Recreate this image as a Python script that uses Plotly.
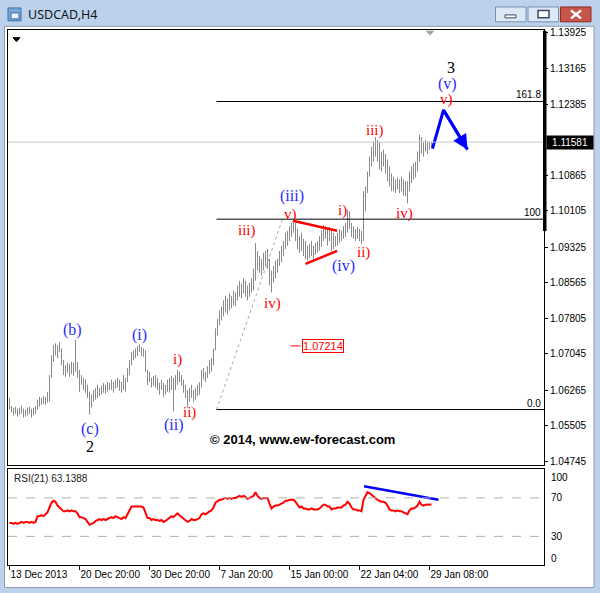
import plotly.graph_objects as go

W, H = 600, 593

# ---------------- data ----------------
title_text = "USDCAD,H4"
date_tick_bars = [0, 35, 70, 105, 140, 175, 210]
date_tick_labels = ["13 Dec 2013", "20 Dec 20:00", "30 Dec 20:00", "7 Jan 20:00",
                    "15 Jan 00:00", "22 Jan 04:00", "29 Jan 08:00"]
price_tick_values = [1.13925, 1.13165, 1.12385, 1.10865, 1.10105, 1.09325,
                     1.08565, 1.07805, 1.07045, 1.06265, 1.05505, 1.04745]
last_price = 1.11581

bar_high = [
    1.0610, 1.0593, 1.0589, 1.0591, 1.0587, 1.0589, 1.0593, 1.0587, 1.0585, 1.0589,
    1.0591, 1.0587, 1.0589, 1.0593, 1.0606, 1.0612, 1.0610, 1.0614, 1.0612, 1.0623,
    1.0659, 1.0701, 1.0723, 1.0727, 1.0723, 1.0729, 1.0716, 1.0691, 1.0680, 1.0685,
    1.0683, 1.0687, 1.0685, 1.0734, 1.0687, 1.0670, 1.0659, 1.0653, 1.0649, 1.0638,
    1.0623, 1.0617, 1.0627, 1.0631, 1.0638, 1.0631, 1.0636, 1.0642, 1.0638, 1.0644,
    1.0642, 1.0649, 1.0644, 1.0649, 1.0653, 1.0649, 1.0644, 1.0659, 1.0653, 1.0674,
    1.0691, 1.0708, 1.0712, 1.0716, 1.0721, 1.0725, 1.0719, 1.0716, 1.0712, 1.0670,
    1.0666, 1.0653, 1.0657, 1.0659, 1.0653, 1.0642, 1.0649, 1.0642, 1.0638, 1.0649,
    1.0653, 1.0657, 1.0653, 1.0659, 1.0670, 1.0666, 1.0659, 1.0649, 1.0638, 1.0627,
    1.0631, 1.0638, 1.0627, 1.0631, 1.0638, 1.0644, 1.0670, 1.0674, 1.0666, 1.0678,
    1.0691, 1.0695, 1.0716, 1.0759, 1.0780, 1.0797, 1.0806, 1.0819, 1.0829, 1.0823,
    1.0834, 1.0829, 1.0840, 1.0836, 1.0851, 1.0861, 1.0855, 1.0866, 1.0861, 1.0851,
    1.0857, 1.0866, 1.0887, 1.0942, 1.0925, 1.0914, 1.0908, 1.0921, 1.0925, 1.0929,
    1.0908, 1.0883, 1.0893, 1.0904, 1.0908, 1.0925, 1.0936, 1.0946, 1.0964, 1.0968,
    1.0978, 1.0985, 1.0991, 1.0985, 1.0972, 1.0957, 1.0964, 1.0951, 1.0946, 1.0936,
    1.0940, 1.0946, 1.0936, 1.0942, 1.0946, 1.0957, 1.0968, 1.0981, 1.0978, 1.0972,
    1.0976, 1.0968, 1.0964, 1.0957, 1.0964, 1.0972, 1.0968, 1.0978, 1.0985, 1.1014,
    1.1010, 1.0985, 1.0978, 1.0972, 1.0976, 1.0972, 1.0968, 1.1053, 1.1063, 1.1095,
    1.1127, 1.1148, 1.1159, 1.1169, 1.1163, 1.1159, 1.1138, 1.1142, 1.1133, 1.1121,
    1.1106, 1.1091, 1.1084, 1.1078, 1.1082, 1.1078, 1.1084, 1.1078, 1.1074, 1.1074,
    1.1095, 1.1106, 1.1112, 1.1116, 1.1138, 1.1174, 1.1169, 1.1159, 1.1163, 1.1159,
    1.1159, 1.1159,
]
bar_low = [
    1.0585, 1.0579, 1.0572, 1.0576, 1.0570, 1.0574, 1.0576, 1.0568, 1.0570, 1.0572,
    1.0576, 1.0568, 1.0572, 1.0576, 1.0585, 1.0591, 1.0595, 1.0597, 1.0595, 1.0600,
    1.0602, 1.0653, 1.0687, 1.0701, 1.0695, 1.0708, 1.0680, 1.0659, 1.0655, 1.0664,
    1.0655, 1.0661, 1.0657, 1.0666, 1.0653, 1.0623, 1.0638, 1.0627, 1.0621, 1.0610,
    1.0574, 1.0589, 1.0602, 1.0606, 1.0610, 1.0614, 1.0617, 1.0621, 1.0619, 1.0623,
    1.0627, 1.0627, 1.0621, 1.0630, 1.0632, 1.0625, 1.0621, 1.0627, 1.0623, 1.0644,
    1.0659, 1.0680, 1.0691, 1.0695, 1.0700, 1.0708, 1.0700, 1.0698, 1.0666, 1.0638,
    1.0644, 1.0632, 1.0636, 1.0632, 1.0627, 1.0617, 1.0627, 1.0612, 1.0617, 1.0623,
    1.0621, 1.0627, 1.0581, 1.0627, 1.0638, 1.0644, 1.0636, 1.0621, 1.0610, 1.0589,
    1.0602, 1.0610, 1.0602, 1.0606, 1.0614, 1.0617, 1.0632, 1.0649, 1.0644, 1.0653,
    1.0661, 1.0666, 1.0680, 1.0712, 1.0744, 1.0766, 1.0776, 1.0785, 1.0793, 1.0789,
    1.0797, 1.0802, 1.0808, 1.0806, 1.0819, 1.0827, 1.0823, 1.0834, 1.0827, 1.0819,
    1.0827, 1.0836, 1.0840, 1.0861, 1.0883, 1.0878, 1.0872, 1.0883, 1.0893, 1.0887,
    1.0851, 1.0836, 1.0857, 1.0866, 1.0878, 1.0893, 1.0900, 1.0914, 1.0929, 1.0936,
    1.0946, 1.0955, 1.0964, 1.0946, 1.0929, 1.0921, 1.0925, 1.0914, 1.0908, 1.0904,
    1.0910, 1.0914, 1.0908, 1.0917, 1.0921, 1.0925, 1.0934, 1.0946, 1.0951, 1.0936,
    1.0946, 1.0925, 1.0929, 1.0934, 1.0936, 1.0942, 1.0946, 1.0951, 1.0955, 1.0964,
    1.0972, 1.0955, 1.0951, 1.0946, 1.0951, 1.0946, 1.0940, 1.0946, 1.1010, 1.1049,
    1.1084, 1.1106, 1.1116, 1.1127, 1.1116, 1.1099, 1.1095, 1.1106, 1.1091, 1.1074,
    1.1063, 1.1053, 1.1053, 1.1049, 1.1057, 1.1049, 1.1053, 1.1044, 1.1042, 1.1027,
    1.1053, 1.1070, 1.1078, 1.1082, 1.1095, 1.1116, 1.1133, 1.1127, 1.1138, 1.1133,
    1.1142, 1.1146,
]
rsi_values = [
    44, 44, 43, 44, 43, 44, 45, 44, 45, 45,
    44, 45, 44, 45, 51, 51, 52, 51, 53, 55,
    60, 65, 67, 66, 62, 60, 57, 56, 56, 57,
    56, 57, 56, 56, 54, 50, 50, 49, 48, 45,
    42, 43, 44, 46, 47, 48, 47, 48, 47, 48,
    49, 50, 49, 51, 50, 49, 48, 50, 49, 53,
    58, 61, 61, 61, 61, 61, 61, 60, 55, 49,
    49, 47, 48, 47, 47, 46, 47, 45, 46, 48,
    49, 51, 50, 52, 54, 52, 50, 48, 46, 45,
    46, 48, 47, 47, 48, 49, 53, 54, 53, 55,
    56, 57, 60, 65, 67, 68, 68, 69, 70, 69,
    70, 69, 70, 70, 71, 72, 71, 72, 71, 69,
    70, 71, 72, 76, 72, 70, 69, 70, 70, 70,
    64, 59, 61, 62, 62, 63, 64, 65, 67, 67,
    68, 68, 68, 66, 63, 60, 61, 59, 59, 58,
    58, 59, 58, 58, 58, 59, 61, 63, 63, 61,
    61, 58, 59, 59, 60, 60, 60, 62, 63, 66,
    64, 60, 58, 58, 57, 57, 56, 68, 72, 76,
    75, 73, 72, 70, 68, 67, 66, 66, 65, 62,
    58, 57, 57, 56, 57, 56, 56, 55, 54, 53,
    57, 59, 59, 60, 62, 66, 63, 62, 63, 63,
    63, 63.1388,
]
rsi_title = "RSI(21) 63.1388"
rsi_levels = [70, 30]
rsi_scale_labels = [100, 70, 30, 0]

fib_anchor_bars = [103.5, 136.5]
fib_anchor_prices = [1.0585, 1.0993]
fib_ratios = [0.0, 100.0, 161.8]
fib_labels = ["0.0", "100", "161.8"]

triangle_upper_bars = [142.2, 163.8]
triangle_upper_prices = [1.0989, 1.0968]
triangle_lower_bars = [148.0, 163.8]
triangle_lower_prices = [1.0897, 1.0925]

projection_bars = [211.5, 217.0, 229.0]
projection_prices = [1.1144, 1.1227, 1.1142]

rsi_div_bars = [177.3, 214.5]
rsi_div_values = [82, 68]

marked_price = 1.07214
marked_price_bars = [140.5, 145.5]

blue_wave_text = ["(b)", "(c)", "(i)", "(ii)", "(iii)", "(iv)", "(v)"]
blue_wave_bars = [31.5, 40.0, 65.0, 82.0, 141.0, 167.0, 219.0]
blue_wave_prices = [1.0755, 1.0543, 1.0744, 1.0551, 1.1042, 1.0893, 1.1282]

red_wave_text = ["i)", "ii)", "iii)", "iv)", "v)", "i)", "ii)", "iii)", "iv)", "v)"]
red_wave_bars = [84.0, 90.0, 118.5, 131.5, 140.5, 166.5, 177.0, 182.5, 197.5, 218.5]
red_wave_prices = [1.0693, 1.0579, 1.0968, 1.0812, 1.1004, 1.1012, 1.0921, 1.1182, 1.1006, 1.1250]

black_wave_text = ["2", "3"]
black_wave_bars = [40.0, 220.5]
black_wave_prices = [1.0506, 1.1318]

copyright_text = "© 2014, www.ew-forecast.com"

# ---------------- layout helpers ----------------
def PX(x):
    return x / W


def PY(y):
    return 1 - y / H


X_RANGE = [-0.75, 267.25]
Y_RANGE = [1.04660, 1.13978]
MAIN = "Liberation Sans"
SERIF = "Liberation Serif"
BLUE_LBL = "#2b2bff"
RED = "#ff0000"

fig = go.Figure()

# price bars (high-low vertical strokes)
bx, by = [], []
for i, (h, l) in enumerate(zip(bar_high, bar_low)):
    bx += [i, i, None]
    by += [l, h, None]
fig.add_trace(go.Scatter(x=bx, y=by, mode="lines", line=dict(color="#8a8a8a", width=1),
                         xaxis="x", yaxis="y", hoverinfo="skip"))

# fibonacci dotted anchor line
fig.add_trace(go.Scatter(x=fib_anchor_bars, y=fib_anchor_prices, mode="lines",
                         line=dict(color="#a8a8a8", width=1, dash="dot"),
                         xaxis="x", yaxis="y", hoverinfo="skip"))

# triangle lines
fig.add_trace(go.Scatter(x=triangle_upper_bars, y=triangle_upper_prices, mode="lines",
                         line=dict(color=RED, width=2.5), xaxis="x", yaxis="y"))
fig.add_trace(go.Scatter(x=triangle_lower_bars, y=triangle_lower_prices, mode="lines",
                         line=dict(color=RED, width=2.5), xaxis="x", yaxis="y"))

# marked price short line
fig.add_trace(go.Scatter(x=marked_price_bars, y=[marked_price, marked_price], mode="lines",
                         line=dict(color=RED, width=1), xaxis="x", yaxis="y"))

# projection path
fig.add_trace(go.Scatter(x=projection_bars, y=projection_prices, mode="lines",
                         line=dict(color="#0000ff", width=3), xaxis="x", yaxis="y"))

# RSI
fig.add_trace(go.Scatter(x=list(range(len(rsi_values))), y=rsi_values, mode="lines",
                         line=dict(color="#ff0000", width=2), xaxis="x2", yaxis="y2"))
fig.add_trace(go.Scatter(x=rsi_div_bars, y=rsi_div_values, mode="lines",
                         line=dict(color="#0000ff", width=2.5), xaxis="x2", yaxis="y2"))

shapes = []
# chart window white area
shapes.append(dict(type="rect", xref="paper", yref="paper", x0=PX(4.5), x1=PX(594), y0=PY(589.5), y1=PY(23.5),
                   fillcolor="white", line=dict(color="#8e9aaa", width=1), layer="below"))
# title bar buttons
for (x0, x1, fill, border) in [(495.5, 526, "#dde8f5", "#7890b0"), (528, 558.5, "#dde8f5", "#7890b0"),
                               (560.5, 591, "#c9544a", "#8a2d25")]:
    shapes.append(dict(type="rect", xref="paper", yref="paper", x0=PX(x0), x1=PX(x1), y0=PY(19), y1=PY(4),
                       fillcolor=fill, line=dict(color=border, width=1)))
shapes.append(dict(type="rect", xref="paper", yref="paper", x0=PX(505), x1=PX(516), y0=PY(15), y1=PY(12),
                   fillcolor="white", line=dict(color="#3a4a60", width=1)))
shapes.append(dict(type="rect", xref="paper", yref="paper", x0=PX(538), x1=PX(549), y0=PY(15), y1=PY(7.5),
                   fillcolor="white", line=dict(color="#3a4a60", width=1.5)))
shapes.append(dict(type="line", xref="paper", yref="paper", x0=PX(571), x1=PX(581), y0=PY(7.5), y1=PY(15.5),
                   line=dict(color="white", width=2.5)))
shapes.append(dict(type="line", xref="paper", yref="paper", x0=PX(571), x1=PX(581), y0=PY(15.5), y1=PY(7.5),
                   line=dict(color="white", width=2.5)))
# title icon
shapes.append(dict(type="rect", xref="paper", yref="paper", x0=PX(8), x1=PX(21), y0=PY(18), y1=PY(5),
                   fillcolor="#7aa6da", line=dict(color="#3e6ea8", width=1)))
shapes.append(dict(type="rect", xref="paper", yref="paper", x0=PX(11), x1=PX(19), y0=PY(16), y1=PY(10),
                   fillcolor="#eaf2fb", line=dict(color="#3e6ea8", width=1)))

# bid line
shapes.append(dict(type="line", xref="x", yref="y", x0=X_RANGE[0], x1=X_RANGE[1], y0=last_price, y1=last_price,
                   line=dict(color="#c8c8c8", width=1)))
# fibonacci levels
fib_prices = [fib_anchor_prices[0] + (fib_anchor_prices[1] - fib_anchor_prices[0]) * r / 100 for r in fib_ratios]
for fp in fib_prices:
    shapes.append(dict(type="line", xref="x", yref="y", x0=fib_anchor_bars[0], x1=X_RANGE[1], y0=fp, y1=fp,
                       line=dict(color="black", width=1)))
# RSI levels
for lv in rsi_levels:
    shapes.append(dict(type="line", xref="x2", yref="y2", x0=X_RANGE[0], x1=X_RANGE[1], y0=lv, y1=lv,
                       line=dict(color="#b0b0b0", width=1, dash="dash")))
# markers on the chart frame
shapes.append(dict(type="path", xref="paper", yref="paper",
                   path=f"M{PX(13)},{PY(35)} L{PX(20)},{PY(35)} L{PX(16.5)},{PY(39)} Z",
                   fillcolor="black", line=dict(color="black", width=1)))
shapes.append(dict(type="path", xref="paper", yref="paper",
                   path=f"M{PX(426.5)},{PY(28.5)} L{PX(433.5)},{PY(28.5)} L{PX(430)},{PY(32)} Z",
                   fillcolor="#a0a0a0", line=dict(color="#a0a0a0", width=1)))
shapes.append(dict(type="rect", xref="paper", yref="paper", x0=PX(543), x1=PX(546.5), y0=PY(230), y1=PY(28),
                   fillcolor="black", line=dict(width=0)))

annotations = []
annotations.append(dict(xref="paper", yref="paper", x=PX(26), y=PY(12), text=title_text, showarrow=False,
                        xanchor="left", yanchor="middle", font=dict(family="Noto Sans", size=12.5, color="#101820")))
# last price box
annotations.append(dict(xref="paper", yref="y", x=PX(545.5), y=last_price, text=f"{last_price:.5f}",
                        showarrow=False, xanchor="left", yanchor="middle", bgcolor="black", width=44,
                        borderpad=1, font=dict(family=MAIN, size=10, color="white")))
# fib labels
for fp, lab in zip(fib_prices, fib_labels):
    annotations.append(dict(xref="paper", yref="y", x=PX(543), y=fp, text=lab, showarrow=False,
                            xanchor="right", yanchor="bottom", yshift=-1,
                            font=dict(family=MAIN, size=10, color="black")))
# RSI scale labels
for v in rsi_scale_labels:
    shift = -8 if v == 100 else (7 if v == 0 else 0)
    annotations.append(dict(xref="paper", yref="y2", x=PX(549), y=v, text=str(v), showarrow=False,
                            xanchor="left", yanchor="middle", yshift=shift,
                            font=dict(family=MAIN, size=10, color="black")))
annotations.append(dict(xref="paper", yref="paper", x=PX(12), y=PY(480), text=rsi_title, showarrow=False,
                        xanchor="left", yanchor="middle", font=dict(family=MAIN, size=10, color="#222")))
# marked price label
annotations.append(dict(xref="x", yref="y", x=marked_price_bars[1] + 0.5, y=marked_price,
                        text=f"{marked_price:.5f}", showarrow=False, xanchor="left", yanchor="middle",
                        bordercolor=RED, borderwidth=1, borderpad=0, bgcolor="white",
                        font=dict(family=MAIN, size=11, color=RED)))
# wave labels
for t, bxx, pr in zip(blue_wave_text, blue_wave_bars, blue_wave_prices):
    annotations.append(dict(xref="x", yref="y", x=bxx, y=pr, text=t, showarrow=False,
                            font=dict(family=SERIF, size=16, color=BLUE_LBL)))
for t, bxx, pr in zip(red_wave_text, red_wave_bars, red_wave_prices):
    annotations.append(dict(xref="x", yref="y", x=bxx, y=pr, text=t, showarrow=False,
                            font=dict(family=SERIF, size=15, color=RED)))
for t, bxx, pr in zip(black_wave_text, black_wave_bars, black_wave_prices):
    annotations.append(dict(xref="x", yref="y", x=bxx, y=pr, text=t, showarrow=False,
                            font=dict(family=SERIF, size=16, color="black")))
# projection arrowhead
annotations.append(dict(xref="x", yref="y", axref="x", ayref="y",
                        x=projection_bars[2], y=projection_prices[2],
                        ax=projection_bars[1], ay=projection_prices[1],
                        showarrow=True, arrowhead=2, arrowsize=1, arrowwidth=3, arrowcolor="#0000ff",
                        text="", standoff=0))
annotations.append(dict(xref="paper", yref="paper", x=PX(302), y=PY(450), text="<b>" + copyright_text + "</b>",
                        showarrow=False, font=dict(family=MAIN, size=13, color="black")))

fig.update_layout(
    width=W, height=H, autosize=False,
    margin=dict(l=0, r=0, t=0, b=0, pad=0),
    paper_bgcolor="#bcd2ec", plot_bgcolor="white",
    showlegend=False, hovermode=False,
    shapes=shapes, annotations=annotations,
    xaxis=dict(domain=[PX(8), PX(544)], range=X_RANGE, anchor="y", showticklabels=False, ticks="",
               showgrid=False, zeroline=False, showline=True, mirror=True, linecolor="black", linewidth=1),
    yaxis=dict(domain=[PY(466), PY(27.5)], range=Y_RANGE, anchor="x", side="right",
               tickvals=price_tick_values, ticktext=[f"{v:.5f}" for v in price_tick_values],
               ticks="outside", ticklen=3, tickcolor="black",
               tickfont=dict(family=MAIN, size=10, color="black"),
               showgrid=False, zeroline=False, showline=True, mirror=True, linecolor="black", linewidth=1),
    xaxis2=dict(domain=[PX(8), PX(544)], range=X_RANGE, anchor="y2", matches="x",
                tickvals=date_tick_bars, ticktext=date_tick_labels, ticks="outside", ticklen=4,
                tickcolor="black", ticklabelposition="outside right",
                tickfont=dict(family=MAIN, size=10, color="black"),
                showgrid=False, zeroline=False, showline=True, mirror=True, linecolor="black", linewidth=1),
    yaxis2=dict(domain=[PY(567), PY(470)], range=[0, 100], anchor="x2", side="right",
                showticklabels=False, ticks="", showgrid=False, zeroline=False,
                showline=True, mirror=True, linecolor="black", linewidth=1),
)

fig.write_html("out.html", config={"displayModeBar": False},
               post_script="document.body.style.margin='0';document.body.style.overflow='hidden';")
